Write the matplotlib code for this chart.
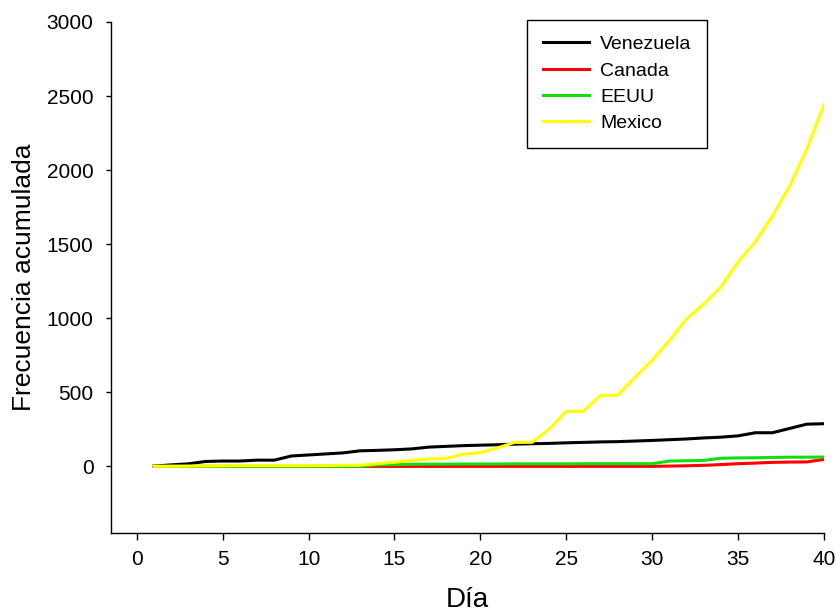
import matplotlib
matplotlib.use("Agg")
import matplotlib.pyplot as plt

plt.rcParams['font.family'] = ['Liberation Sans', 'DejaVu Sans']

# dias y casos acumulados por pais
dias = list(range(1, 41))

venezuela = [2, 10, 17, 33, 36, 36, 42, 42, 70, 77,
             84, 91, 105, 108, 112, 118, 130, 135, 140, 143,
             146, 150, 153, 155, 159, 162, 165, 167, 171, 175,
             180, 185, 192, 197, 206, 227, 227, 256, 285, 288]

canada = [0, 0, 0, 0, 0, 0, 0, 0, 0, 0,
          0, 0, 0, 0, 0, 0, 0, 0, 0, 0,
          0, 0, 0, 0, 0, 0, 0, 0, 0, 0,
          2, 4, 7, 12, 18, 22, 27, 29, 30, 47]

eeuu = [0, 0, 0, 0, 0, 0, 0, 0, 0, 0,
        0, 0, 0, 10, 12, 14, 15, 15, 16, 16,
        16, 17, 17, 17, 17, 18, 18, 18, 18, 18,
        36, 38, 40, 55, 57, 58, 60, 62, 62, 63]

mexico = [1, 1, 2, 3, 4, 5, 5, 5, 5, 5,
          6, 7, 8, 18, 28, 40, 50, 53, 82, 93,
          125, 162, 162, 250, 372, 372, 480, 480, 600, 715,
          850, 995, 1095, 1210, 1380, 1515, 1690, 1890, 2140, 2440]

series = [("Venezuela", venezuela, "black"),
          ("Canada", canada, "#ff0000"),
          ("EEUU", eeuu, "#10e010"),
          ("Mexico", mexico, "#ffff00")]

fig = plt.figure(figsize=(8.36, 6.16), dpi=100)
ax = fig.add_axes([0.1328, 0.1347, 0.8528, 0.8296])

for nombre, valores, color in series:
    ax.plot(dias, valores, color=color, lw=2.2, label=nombre)

ax.set_xlim(-1.5, 40)
ax.set_ylim(-450, 3000)
ax.set_xticks(range(0, 41, 5))
ax.set_yticks(range(0, 3001, 500))

ax.spines['top'].set_visible(False)
ax.spines['right'].set_visible(False)
for s in ('left', 'bottom'):
    ax.spines[s].set_linewidth(1.0)
ax.tick_params(direction='out', width=1.0, labelsize=15)
ax.tick_params(axis='x', length=4.8, pad=7.5)
ax.tick_params(axis='y', length=3.6, pad=9.0)

ax.set_xlabel("Día", fontsize=20, labelpad=13)
ax.set_ylabel("Frecuencia acumulada", fontsize=19, labelpad=8)

leg = ax.legend(loc='upper left', bbox_to_anchor=(527 / 836, 1 - 20 / 616),
                bbox_transform=fig.transFigure, fontsize=14, frameon=True,
                fancybox=False, edgecolor='black', framealpha=1,
                handlelength=2.4, handletextpad=0.55, labelspacing=0.45,
                borderpad=0.8, borderaxespad=0)
leg.get_frame().set_linewidth(1.0)

fig.savefig("out.png", dpi=100)
